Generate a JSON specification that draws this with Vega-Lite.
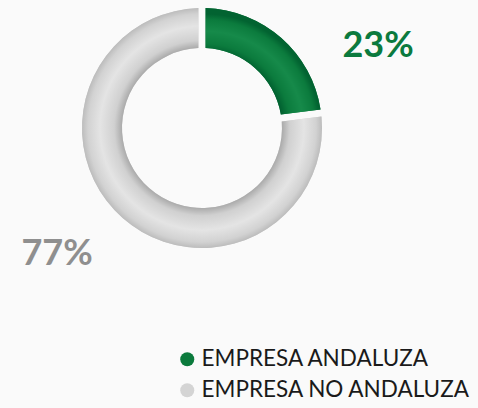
{
  "$schema": "https://vega.github.io/schema/vega-lite/v6.json",
  "width": 240,
  "height": 240,
  "autosize": {"type": "none"},
  "padding": {"left": 82, "top": 8, "right": 156, "bottom": 160},
  "background": "#fafafa",
  "config": {"view": {"stroke": null}, "font": "Lato"},
  "data": {
    "values": [
      {"cat": "EMPRESA ANDALUZA", "value": 23, "label": "23%"},
      {"cat": "EMPRESA NO ANDALUZA", "value": 77, "label": "77%"}
    ]
  },
  "transform": [
    {"stack": "value", "groupby": [], "as": ["v0", "v1"], "sort": [{"field": "cat", "order": "ascending"}]}
  ],
  "encoding": {
    "theta": {"field": "v0", "type": "quantitative", "scale": {"domain": [0, 100]}},
    "theta2": {"field": "v1"}
  },
  "layer": [
    {
      "mark": {"type": "arc", "innerRadius": 80, "outerRadius": 120, "padAngle": 0.05},
      "encoding": {
        "color": {
          "field": "cat",
          "type": "nominal",
          "scale": {"domain": ["EMPRESA ANDALUZA", "EMPRESA NO ANDALUZA"], "range": ["#0b7a3c", "#d4d4d4"]},
          "legend": {
            "title": null,
            "orient": "none",
            "legendX": 94,
            "legendY": 340,
            "symbolType": "circle",
            "symbolSize": 196,
            "symbolStrokeWidth": 0,
            "labelFontSize": 22.5,
            "labelFont": "Lato",
            "labelColor": "#1a1a1a",
            "labelOffset": 3,
            "labelLimit": 400,
            "rowPadding": 8
          }
        }
      }
    },
    {
      "transform": [{"filter": "datum.cat === 'EMPRESA ANDALUZA'"}],
      "mark": {
        "type": "arc", "innerRadius": 80, "outerRadius": 120, "padAngle": 0.05,
        "fill": {
          "gradient": "radial", "x1": 0.0, "y1": 1.09, "r1": 0, "x2": 0.0, "y2": 1.09, "r2": 1.0,
          "stops": [
            {"offset": 0.667, "color": "#005f2f"},
            {"offset": 0.74, "color": "#0b7b3d"},
            {"offset": 0.85, "color": "#168a4a"},
            {"offset": 0.95, "color": "#0b7b3d"},
            {"offset": 1.0, "color": "#026331"}
          ]
        }
      }
    },
    {
      "transform": [{"filter": "datum.cat === 'EMPRESA NO ANDALUZA'"}],
      "mark": {
        "type": "arc", "innerRadius": 80, "outerRadius": 120, "padAngle": 0.05,
        "fill": {
          "gradient": "radial", "x1": 0.5, "y1": 0.5, "r1": 0, "x2": 0.5, "y2": 0.5, "r2": 0.5,
          "stops": [
            {"offset": 0.667, "color": "#ababab"},
            {"offset": 0.73, "color": "#d0d0d0"},
            {"offset": 0.85, "color": "#e4e4e4"},
            {"offset": 0.95, "color": "#d2d2d2"},
            {"offset": 1.0, "color": "#bcbcbc"}
          ]
        }
      }
    },
    {
      "transform": [{"filter": "datum.cat === 'EMPRESA ANDALUZA'"}],
      "mark": {"type": "text", "radius": 0, "dx": 176, "dy": -82, "fontSize": 36, "fontWeight": "bold", "font": "Lato", "color": "#0b7a3e", "align": "center", "baseline": "middle"},
      "encoding": {"text": {"field": "label"}}
    },
    {
      "transform": [{"filter": "datum.cat === 'EMPRESA NO ANDALUZA'"}],
      "mark": {"type": "text", "radius": 0, "dx": -145, "dy": 126, "fontSize": 36, "fontWeight": "bold", "font": "Lato", "color": "#8f8f8f", "align": "center", "baseline": "middle"},
      "encoding": {"text": {"field": "label"}}
    }
  ]
}
